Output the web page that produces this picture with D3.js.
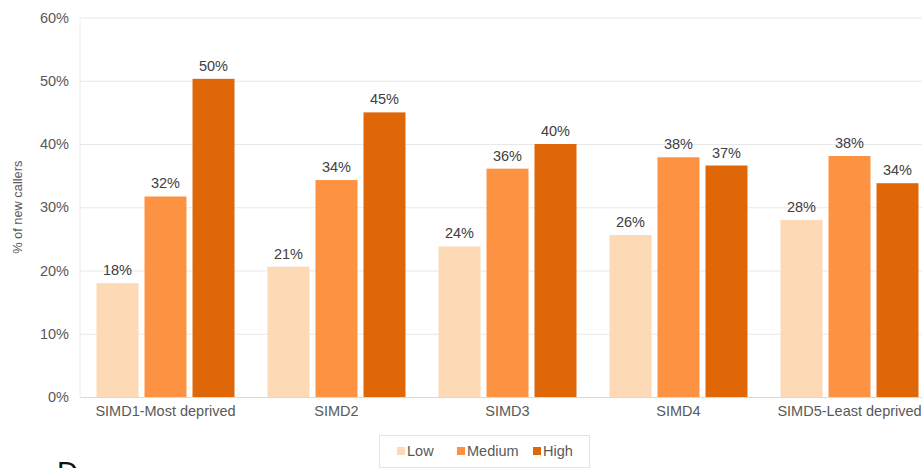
<!DOCTYPE html>
<html>
<head>
<meta charset="utf-8">
<script src="https://cdn.jsdelivr.net/npm/d3@7"></script>
<style>
  html, body { margin: 0; padding: 0; background: #fff; overflow: hidden; }
  svg { display: block; font-family: "Liberation Sans", Arial, sans-serif; }
</style>
</head>
<body>
<svg id="chart" width="922" height="468"></svg>
<script>
// Share of new callers by deprivation quintile (SIMD) and level
const categories = ["SIMD1-Most deprived", "SIMD2", "SIMD3", "SIMD4", "SIMD5-Least deprived"];
const seriesNames = ["Low", "Medium", "High"];
const lowValues    = [18.0, 20.6, 23.8, 25.6, 28.0];
const mediumValues = [31.7, 34.3, 36.1, 37.9, 38.1];
const highValues   = [50.3, 45.0, 40.0, 36.6, 33.8];
const yTicks = [0, 10, 20, 30, 40, 50, 60];
const colors = ["#FDD9B5", "#FD9342", "#E06708"];

const seriesValues = [lowValues, mediumValues, highValues];
const rows = categories.map((c, i) => ({
  category: c,
  values: seriesNames.map((s, j) => ({ series: s, value: seriesValues[j][i] }))
}));

const svg = d3.select("#chart");
const plotLeft = 80, plotRight = 935, plotTop = 17.5, plotBottom = 397;
const fontSize = 14.5;

const x0 = d3.scaleBand().domain(categories).range([plotLeft, plotRight]).padding(0);
const x1 = d3.scaleBand().domain(seriesNames)
  .range([16.5, x0.bandwidth() - 16.5]).paddingInner(0.125).paddingOuter(0);
const y = d3.scaleLinear().domain([0, 60]).range([plotBottom, plotTop]);
const color = d3.scaleOrdinal().domain(seriesNames).range(colors);

// Horizontal gridlines and y tick labels
const yAxis = svg.append("g")
  .attr("transform", `translate(${plotLeft},0)`)
  .call(d3.axisLeft(y).tickValues(yTicks).tickFormat(d => d + "%")
    .tickSize(-(922 - plotLeft)).tickPadding(11));
yAxis.select(".domain").remove();
yAxis.selectAll(".tick line").attr("stroke", d => d === 0 ? "#d9d9d9" : "#e8e8e8");
yAxis.selectAll(".tick text")
  .attr("fill", "#595959").attr("font-size", fontSize)
  .attr("font-family", "'Liberation Sans', Arial, sans-serif");

// Faint left edge of the plot area
svg.append("line")
  .attr("x1", plotLeft).attr("x2", plotLeft).attr("y1", plotTop).attr("y2", plotBottom)
  .attr("stroke", "#ececec");

// Y axis title
svg.append("text")
  .attr("transform", `translate(22,${(plotTop + plotBottom) / 2}) rotate(-90)`)
  .attr("text-anchor", "middle")
  .attr("fill", "#595959").attr("font-size", 12.8)
  .text("% of new callers");

// Bars
const groups = svg.append("g").selectAll("g")
  .data(rows).join("g")
  .attr("transform", d => `translate(${x0(d.category)},0)`);

groups.selectAll("rect")
  .data(d => d.values).join("rect")
  .attr("x", d => x1(d.series))
  .attr("width", x1.bandwidth())
  .attr("y", d => y(d.value))
  .attr("height", d => y(0) - y(d.value))
  .attr("fill", d => color(d.series));

// Value labels
groups.selectAll("text.value")
  .data(d => d.values).join("text")
  .attr("class", "value")
  .attr("x", d => x1(d.series) + x1.bandwidth() / 2)
  .attr("y", d => y(d.value) - 8)
  .attr("text-anchor", "middle")
  .attr("fill", "#404040").attr("font-size", fontSize)
  .text(d => Math.round(d.value) + "%");

// Category labels
const xAxis = svg.append("g")
  .attr("transform", `translate(0,${plotBottom})`)
  .call(d3.axisBottom(x0).tickSize(0).tickPadding(9));
xAxis.select(".domain").remove();
xAxis.selectAll(".tick text")
  .attr("fill", "#595959").attr("font-size", fontSize)
  .attr("font-family", "'Liberation Sans', Arial, sans-serif");

// Legend
const legend = svg.append("g");
legend.append("rect")
  .attr("x", 379.5).attr("y", 435.5).attr("width", 210).attr("height", 32)
  .attr("fill", "#fff").attr("stroke", "#e4e4e4");
const legendX = [397, 457, 533];
const items = legend.selectAll("g.item")
  .data(seriesNames).join("g")
  .attr("class", "item")
  .attr("transform", (d, i) => `translate(${legendX[i]},451)`);
items.append("rect")
  .attr("x", 0).attr("y", -4).attr("width", 8).attr("height", 8)
  .attr("fill", d => color(d));
items.append("text")
  .attr("x", 10).attr("y", 5)
  .attr("fill", "#595959").attr("font-size", fontSize)
  .text(d => d);

// Start of the following heading, cut off by the page edge
svg.append("text")
  .attr("x", 57).attr("y", 482)
  .attr("fill", "#111").attr("font-size", 29)
  .text("D");
</script>
</body>
</html>
